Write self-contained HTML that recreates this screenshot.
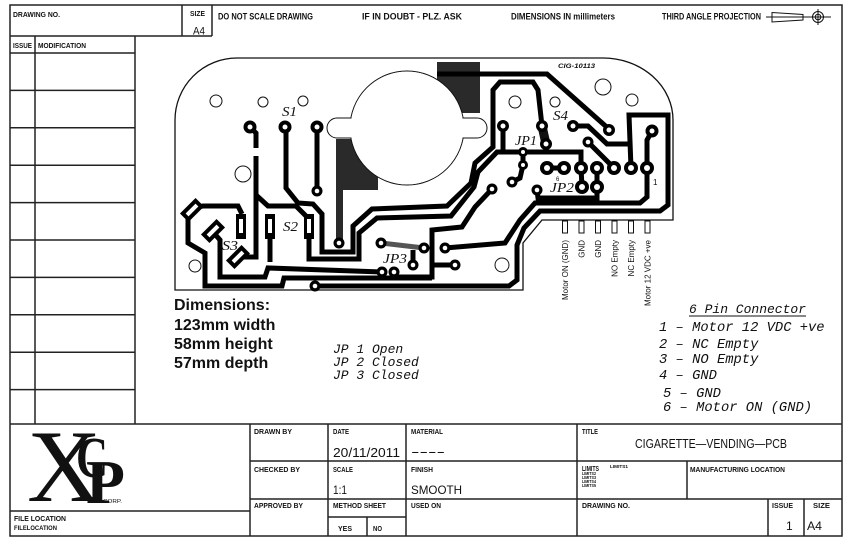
<!DOCTYPE html>
<html><head><meta charset="utf-8"><style>
html,body{margin:0;padding:0;background:#fff;}
svg{display:block;}
.b{font-family:"Liberation Sans",sans-serif;font-weight:bold;fill:#111;}
.n{font-family:"Liberation Sans",sans-serif;fill:#111;}
.m{font-family:"Liberation Mono",monospace;font-style:italic;fill:#111;}
.s{font-family:"Liberation Serif",serif;font-style:italic;fill:#111;}
</style></head><body>
<svg width="850" height="558" viewBox="0 0 850 558" xmlns="http://www.w3.org/2000/svg">
<rect width="850" height="558" fill="#fff"/>
<!-- frame -->
<g stroke="#222" stroke-width="1.5" fill="none">
<rect x="10" y="5" width="832" height="531"/>
<line x1="182" y1="5" x2="182" y2="36"/><line x1="212" y1="5" x2="212" y2="36"/><line x1="10" y1="36" x2="212" y2="36"/>
<line x1="35" y1="36" x2="35" y2="424"/><line x1="135" y1="36" x2="135" y2="424"/>
<line x1="10" y1="53" x2="135" y2="53"/><line x1="10" y1="90.4" x2="135" y2="90.4"/><line x1="10" y1="127.8" x2="135" y2="127.8"/><line x1="10" y1="165.2" x2="135" y2="165.2"/><line x1="10" y1="202.6" x2="135" y2="202.6"/><line x1="10" y1="240" x2="135" y2="240"/><line x1="10" y1="277.4" x2="135" y2="277.4"/><line x1="10" y1="314.8" x2="135" y2="314.8"/><line x1="10" y1="352.2" x2="135" y2="352.2"/><line x1="10" y1="389.6" x2="135" y2="389.6"/>
<line x1="10" y1="424" x2="842" y2="424"/>
<line x1="250" y1="424" x2="250" y2="536"/><line x1="328" y1="424" x2="328" y2="536"/><line x1="406" y1="424" x2="406" y2="536"/><line x1="577" y1="424" x2="577" y2="536"/>
<line x1="250" y1="461" x2="842" y2="461"/><line x1="250" y1="499" x2="842" y2="499"/>
<line x1="10" y1="511" x2="250" y2="511"/>
<line x1="328" y1="517" x2="406" y2="517"/><line x1="367" y1="517" x2="367" y2="536"/>
<line x1="687" y1="461" x2="687" y2="499"/>
<line x1="768" y1="499" x2="768" y2="536"/><line x1="804" y1="499" x2="804" y2="536"/>
</g>
<!-- header text -->
<text class="b" x="13" y="17" font-size="7" textLength="47" lengthAdjust="spacingAndGlyphs">DRAWING NO.</text>
<text class="b" x="190" y="16" font-size="7" textLength="15" lengthAdjust="spacingAndGlyphs">SIZE</text>
<text class="n" x="193" y="34.5" font-size="11" textLength="12" lengthAdjust="spacingAndGlyphs">A4</text>
<text class="b" x="218" y="19.5" font-size="9" textLength="95" lengthAdjust="spacingAndGlyphs">DO NOT SCALE DRAWING</text>
<text class="b" x="362" y="19.5" font-size="9" textLength="100" lengthAdjust="spacingAndGlyphs">IF IN DOUBT - PLZ. ASK</text>
<text class="b" x="511" y="19.5" font-size="9" textLength="104" lengthAdjust="spacingAndGlyphs">DIMENSIONS IN millimeters</text>
<text class="b" x="662" y="19.5" font-size="9" textLength="99" lengthAdjust="spacingAndGlyphs">THIRD ANGLE PROJECTION</text>
<g stroke="#111" stroke-width="1" fill="none">
<path d="M772,12.5 L772,22 L803,20 L803,14.5 Z"/>
<line x1="766" y1="17" x2="831" y2="17"/>
<circle cx="818" cy="17" r="5.5"/><circle cx="818" cy="17" r="2.8"/>
<line x1="818" y1="9" x2="818" y2="25"/>
</g>
<text class="b" x="13" y="48" font-size="7" textLength="19" lengthAdjust="spacingAndGlyphs">ISSUE</text>
<text class="b" x="38" y="48" font-size="7" textLength="48" lengthAdjust="spacingAndGlyphs">MODIFICATION</text>

<!-- PCB -->
<path d="M175,120 A62,62 0 0 1 237,58 L603,58 A70,62 0 0 1 673,120 L673,220 L542,220 L523,243 L523,290 L175,290 Z" fill="none" stroke="#111" stroke-width="1.3"/>
<polygon points="336,139 378,139 378,190 343,190 343,244 336,244" fill="#2a2a2a"/>
<polygon points="437,62 480,62 480,113 437,113" fill="#2a2a2a"/>
<circle cx="407" cy="128" r="57" fill="#fff" stroke="#111" stroke-width="1"/>
<rect x="327" y="118" width="160" height="20" rx="10" fill="#fff" stroke="#111" stroke-width="1"/>
<circle cx="407" cy="128" r="56.4" fill="#fff"/>
<rect x="338" y="118.6" width="140" height="18.8" fill="#fff"/>

<g stroke="#000" stroke-width="5" fill="none" stroke-linejoin="miter">
<polyline points="437,74 547,74 610,130"/>
<polyline points="250,127 256,133 256,148"/>
<polyline points="256,156 256,257 240,257"/>
<polyline points="256,195 268,206 296,206 308,218"/>
<polyline points="542,126 538,90 533,82 500,82 493,90 493,147 475,163 471,183 447,206 372,209 353,226 353,252 322,252 322,214 313,204 298,203 286,188 286,127"/>
<polyline points="503,126 503,152"/>
<polyline points="581,168 581,152 497,152 478,172 474,187 451,216 377,218 359,233 359,259 309,259 309,237"/>
<polyline points="317,127 317,191"/>
<polyline points="652,131 647,140 647,197 640,203 535,203 520,220 505,243 445,248"/>
<polyline points="631,168 629,115 668,115 668,205 660,211 540,211 524,228 517,245 517,280 509,286 315,286"/>
<polyline points="492,189 475,207 462,227 432,230 432,277 394,277 394,272"/>
<polyline points="432,265 455,265"/>
<polyline points="413,265 413,250"/>
<polyline points="573,126 588,126 607,144 629,144"/>
<polyline points="588,142 614,168"/>
<polyline points="547,168 564,168"/>
<polyline points="581,168 582,187"/>
<polyline points="597,168 597,198 538,198 537,190"/>
<polyline points="512,182 520,178 523,165 523,152"/>
<polyline points="192,208 203,206 238,206 242,214"/>
<polyline points="188,215 188,243 205,253 205,286 282,286 284,278 432,278"/>
<polyline points="213,232 220,240 220,277 265,277 268,268 382,272"/>
<polyline points="270,238 270,262"/>
</g>
<line x1="381" y1="243" x2="424" y2="248" stroke="#555" stroke-width="5"/>
<line x1="542" y1="126" x2="546" y2="144" stroke="#111" stroke-width="9"/>

<!-- S3 pads -->
<g transform="translate(192,210) rotate(-45)"><rect x="-11" y="-6" width="22" height="12" fill="#000"/><rect x="-7" y="-2" width="14" height="4" fill="#fff"/></g>
<g transform="translate(213,231) rotate(-45)"><rect x="-11" y="-6" width="22" height="12" fill="#000"/><rect x="-7" y="-2" width="14" height="4" fill="#fff"/></g>
<g transform="translate(238,257) rotate(-45)"><rect x="-11" y="-6" width="22" height="12" fill="#000"/><rect x="-7" y="-2" width="14" height="4" fill="#fff"/></g>
<!-- S2 pads -->
<rect x="236" y="214" width="10" height="25" fill="#000"/><rect x="239" y="219" width="4" height="14" fill="#fff"/>
<rect x="265" y="214" width="10" height="25" fill="#000"/><rect x="268" y="219" width="4" height="14" fill="#fff"/>
<rect x="304" y="214" width="10" height="25" fill="#000"/><rect x="307" y="219" width="4" height="14" fill="#fff"/>

<!-- pads -->
<g fill="#000">
<circle cx="250" cy="127" r="6.5"/><circle cx="285" cy="127" r="6.5"/><circle cx="317" cy="127" r="6.5"/>
<circle cx="317" cy="191" r="5.5"/><circle cx="339" cy="243" r="5.5"/>
<circle cx="381" cy="243" r="5.5"/><circle cx="424" cy="248" r="5.5"/><circle cx="413" cy="265" r="5.5"/>
<circle cx="382" cy="272" r="5.5"/><circle cx="394" cy="272" r="5.5"/><circle cx="445" cy="248" r="5.5"/>
<circle cx="455" cy="265" r="5.5"/><circle cx="315" cy="286" r="5.5"/><circle cx="492" cy="189" r="5.5"/>
<circle cx="503" cy="126" r="6"/><circle cx="542" cy="126" r="6"/><circle cx="546" cy="144" r="6"/>
<circle cx="523" cy="152" r="5"/><circle cx="523" cy="165" r="5"/><circle cx="512" cy="182" r="5.5"/><circle cx="537" cy="190" r="5.5"/>
<circle cx="573" cy="126" r="6"/><circle cx="609" cy="130" r="6"/><circle cx="588" cy="142" r="5.5"/>
<circle cx="547" cy="168" r="7"/><circle cx="564" cy="168" r="7"/><circle cx="581" cy="168" r="7"/><circle cx="597" cy="168" r="7"/><circle cx="614" cy="168" r="7"/><circle cx="631" cy="168" r="7"/><circle cx="647" cy="168" r="7"/>
<circle cx="582" cy="187" r="7"/><circle cx="597" cy="187" r="7"/>
<circle cx="652" cy="131" r="6.5"/>
</g>
<g fill="#fff">
<circle cx="250" cy="127" r="2.5"/><circle cx="285" cy="127" r="2.5"/><circle cx="317" cy="127" r="2.5"/>
<circle cx="317" cy="191" r="2.3"/><circle cx="339" cy="243" r="2.3"/>
<circle cx="381" cy="243" r="2.3"/><circle cx="424" cy="248" r="2.3"/><circle cx="413" cy="265" r="2.3"/>
<circle cx="382" cy="272" r="2.3"/><circle cx="394" cy="272" r="2.3"/><circle cx="445" cy="248" r="2.3"/>
<circle cx="455" cy="265" r="2.3"/><circle cx="315" cy="286" r="2.3"/><circle cx="492" cy="189" r="2.3"/>
<circle cx="503" cy="126" r="2.5"/><circle cx="542" cy="126" r="2.5"/><circle cx="546" cy="144" r="2.5"/>
<circle cx="523" cy="152" r="2"/><circle cx="523" cy="165" r="2"/><circle cx="512" cy="182" r="2.3"/><circle cx="537" cy="190" r="2.3"/>
<circle cx="573" cy="126" r="2.5"/><circle cx="609" cy="130" r="2.5"/><circle cx="588" cy="142" r="2.3"/>
<circle cx="547" cy="168" r="3"/><circle cx="564" cy="168" r="3"/><circle cx="581" cy="168" r="3"/><circle cx="597" cy="168" r="3"/><circle cx="614" cy="168" r="3"/><circle cx="631" cy="168" r="3"/><circle cx="647" cy="168" r="3"/>
<circle cx="582" cy="187" r="3"/><circle cx="597" cy="187" r="3"/>
<circle cx="652" cy="131" r="2.5"/>
</g>
<!-- holes -->
<g fill="#fff" stroke="#111" stroke-width="1">
<circle cx="216" cy="101" r="6"/><circle cx="263" cy="102" r="5"/><circle cx="303" cy="101" r="5"/>
<circle cx="243" cy="174" r="8"/><circle cx="195" cy="266" r="6"/>
<circle cx="515" cy="102" r="6"/><circle cx="555" cy="102" r="5"/><circle cx="603" cy="87" r="8"/><circle cx="632" cy="100" r="6"/>
<circle cx="502" cy="265" r="7"/>
</g>
<!-- connector pins -->
<g fill="#fff" stroke="#111" stroke-width="1">
<rect x="562.5" y="221" width="5" height="12"/><rect x="579" y="221" width="5" height="12"/><rect x="595.5" y="221" width="5" height="12"/>
<rect x="612" y="221" width="5" height="12"/><rect x="628.5" y="221" width="5" height="12"/><rect x="645" y="221" width="5" height="12"/>
</g>
<g class="n" font-size="8">
<text transform="translate(568,240) rotate(-90)" text-anchor="end" class="n">Motor ON (GND)</text>
<text transform="translate(584.5,240) rotate(-90)" text-anchor="end" class="n">GND</text>
<text transform="translate(601,240) rotate(-90)" text-anchor="end" class="n">GND</text>
<text transform="translate(617.5,240) rotate(-90)" text-anchor="end" class="n">NO Empty</text>
<text transform="translate(634,240) rotate(-90)" text-anchor="end" class="n">NC Empty</text>
<text transform="translate(650.5,240) rotate(-90)" text-anchor="end" class="n">Motor 12 VDC +ve</text>
</g>
<!-- PCB labels -->
<text class="s" x="282" y="116" font-size="14" textLength="15" lengthAdjust="spacingAndGlyphs">S1</text>
<text class="s" x="283" y="231" font-size="14" textLength="15" lengthAdjust="spacingAndGlyphs">S2</text>
<text class="s" x="222" y="250" font-size="14" textLength="16" lengthAdjust="spacingAndGlyphs">S3</text>
<text class="s" x="553" y="120" font-size="14" textLength="15" lengthAdjust="spacingAndGlyphs">S4</text>
<text class="s" x="515" y="145" font-size="14" textLength="22" lengthAdjust="spacingAndGlyphs">JP1</text>
<text class="s" x="550" y="192" font-size="14" textLength="24" lengthAdjust="spacingAndGlyphs">JP2</text>
<text class="s" x="383" y="263" font-size="14" textLength="24" lengthAdjust="spacingAndGlyphs">JP3</text>
<text class="n" x="556" y="181" font-size="6">6</text>
<text class="n" x="653" y="185" font-size="8">1</text>
<text class="b" x="558" y="68" font-size="6.5" font-style="italic" textLength="37" lengthAdjust="spacingAndGlyphs">CIG-10113</text>

<!-- notes -->
<g class="b" font-size="16">
<text class="b" x="174" y="310">Dimensions:</text>
<text class="b" x="174" y="330">123mm width</text>
<text class="b" x="174" y="349">58mm height</text>
<text class="b" x="174" y="368">57mm depth</text>
</g>
<text class="m" x="333" y="353" font-size="13">JP 1 Open</text>
<text class="m" x="333" y="366" font-size="13">JP 2 Closed</text>
<text class="m" x="333" y="379" font-size="13">JP 3 Closed</text>

<text class="m" x="689" y="313" font-size="13" textLength="117" lengthAdjust="spacingAndGlyphs">6 Pin Connector</text>
<line x1="689" y1="316" x2="806" y2="316" stroke="#111" stroke-width="1"/>
<g font-size="13.8">
<text class="m" x="659" y="331" font-size="13.8">1 – Motor 12 VDC +ve</text>
<text class="m" x="659" y="348" font-size="13.8">2 – NC Empty</text>
<text class="m" x="659" y="363" font-size="13.8">3 – NO Empty</text>
<text class="m" x="659" y="379" font-size="13.8">4 – GND</text>
<text class="m" x="663" y="397" font-size="13.8">5 – GND</text>
<text class="m" x="663" y="411" font-size="13.8">6 – Motor ON (GND)</text>
</g>

<!-- logo -->
<text x="27" y="501" font-family="Liberation Serif, serif" font-size="103" fill="#111">X</text>
<text x="76" y="477" font-family="Liberation Serif, serif" font-weight="bold" font-size="58" fill="#111" textLength="32" lengthAdjust="spacingAndGlyphs">C</text>
<text x="86" y="503" font-family="Liberation Serif, serif" font-weight="bold" font-size="62" fill="#111" textLength="39" lengthAdjust="spacingAndGlyphs">P</text>
<text class="n" x="103" y="503" font-size="5" textLength="19" lengthAdjust="spacingAndGlyphs">CORP.</text>

<!-- title block text -->
<g font-size="7">
<text class="b" x="254" y="434" font-size="7" textLength="38" lengthAdjust="spacingAndGlyphs">DRAWN BY</text>
<text class="b" x="333" y="434" font-size="7" textLength="16" lengthAdjust="spacingAndGlyphs">DATE</text>
<text class="b" x="411" y="434" font-size="7" textLength="32" lengthAdjust="spacingAndGlyphs">MATERIAL</text>
<text class="b" x="582" y="434" font-size="7" textLength="16" lengthAdjust="spacingAndGlyphs">TITLE</text>
<text class="b" x="254" y="472" font-size="7" textLength="46" lengthAdjust="spacingAndGlyphs">CHECKED BY</text>
<text class="b" x="333" y="472" font-size="7" textLength="20" lengthAdjust="spacingAndGlyphs">SCALE</text>
<text class="b" x="411" y="472" font-size="7" textLength="22" lengthAdjust="spacingAndGlyphs">FINISH</text>
<text class="b" x="582" y="471" font-size="7" textLength="17" lengthAdjust="spacingAndGlyphs">LIMITS</text>
<text class="b" x="610" y="468" font-size="4.5" textLength="18" lengthAdjust="spacingAndGlyphs">LIMITS1</text>
<text class="b" x="582" y="475" font-size="4.5" textLength="14" lengthAdjust="spacingAndGlyphs">LIMITS2</text>
<text class="b" x="582" y="479" font-size="4.5" textLength="14" lengthAdjust="spacingAndGlyphs">LIMITS3</text>
<text class="b" x="582" y="483" font-size="4.5" textLength="14" lengthAdjust="spacingAndGlyphs">LIMITS4</text>
<text class="b" x="582" y="487" font-size="4.5" textLength="14" lengthAdjust="spacingAndGlyphs">LIMITS5</text>
<text class="b" x="690" y="472" font-size="7" textLength="95" lengthAdjust="spacingAndGlyphs">MANUFACTURING LOCATION</text>
<text class="b" x="254" y="508" font-size="7" textLength="49" lengthAdjust="spacingAndGlyphs">APPROVED BY</text>
<text class="b" x="333" y="508" font-size="7" textLength="53" lengthAdjust="spacingAndGlyphs">METHOD SHEET</text>
<text class="b" x="411" y="508" font-size="7" textLength="30" lengthAdjust="spacingAndGlyphs">USED ON</text>
<text class="b" x="582" y="508" font-size="7" textLength="48" lengthAdjust="spacingAndGlyphs">DRAWING NO.</text>
<text class="b" x="772" y="508" font-size="7" textLength="21" lengthAdjust="spacingAndGlyphs">ISSUE</text>
<text class="b" x="813" y="508" font-size="7" textLength="17" lengthAdjust="spacingAndGlyphs">SIZE</text>
<text class="b" x="338" y="531" font-size="7" textLength="14" lengthAdjust="spacingAndGlyphs">YES</text>
<text class="b" x="373" y="531" font-size="7" textLength="9" lengthAdjust="spacingAndGlyphs">NO</text>
<text class="b" x="14" y="521" font-size="7" textLength="52" lengthAdjust="spacingAndGlyphs">FILE LOCATION</text>
<text class="b" x="14" y="530" font-size="6" textLength="43" lengthAdjust="spacingAndGlyphs">FILELOCATION</text>
</g>
<text class="n" x="333" y="457" font-size="13" textLength="67" lengthAdjust="spacingAndGlyphs">20/11/2011</text>
<text class="n" x="411" y="456" font-size="13" textLength="34" lengthAdjust="spacingAndGlyphs">----</text>
<text class="n" x="635" y="448" font-size="13" textLength="152" lengthAdjust="spacingAndGlyphs">CIGARETTE—VENDING—PCB</text>
<text class="n" x="333" y="494" font-size="12" textLength="14" lengthAdjust="spacingAndGlyphs">1:1</text>
<text class="n" x="411" y="494" font-size="12" textLength="51" lengthAdjust="spacingAndGlyphs">SMOOTH</text>
<text class="n" x="786" y="530" font-size="12">1</text>
<text class="n" x="807" y="530" font-size="12" textLength="15" lengthAdjust="spacingAndGlyphs">A4</text>
</svg>
</body></html>
